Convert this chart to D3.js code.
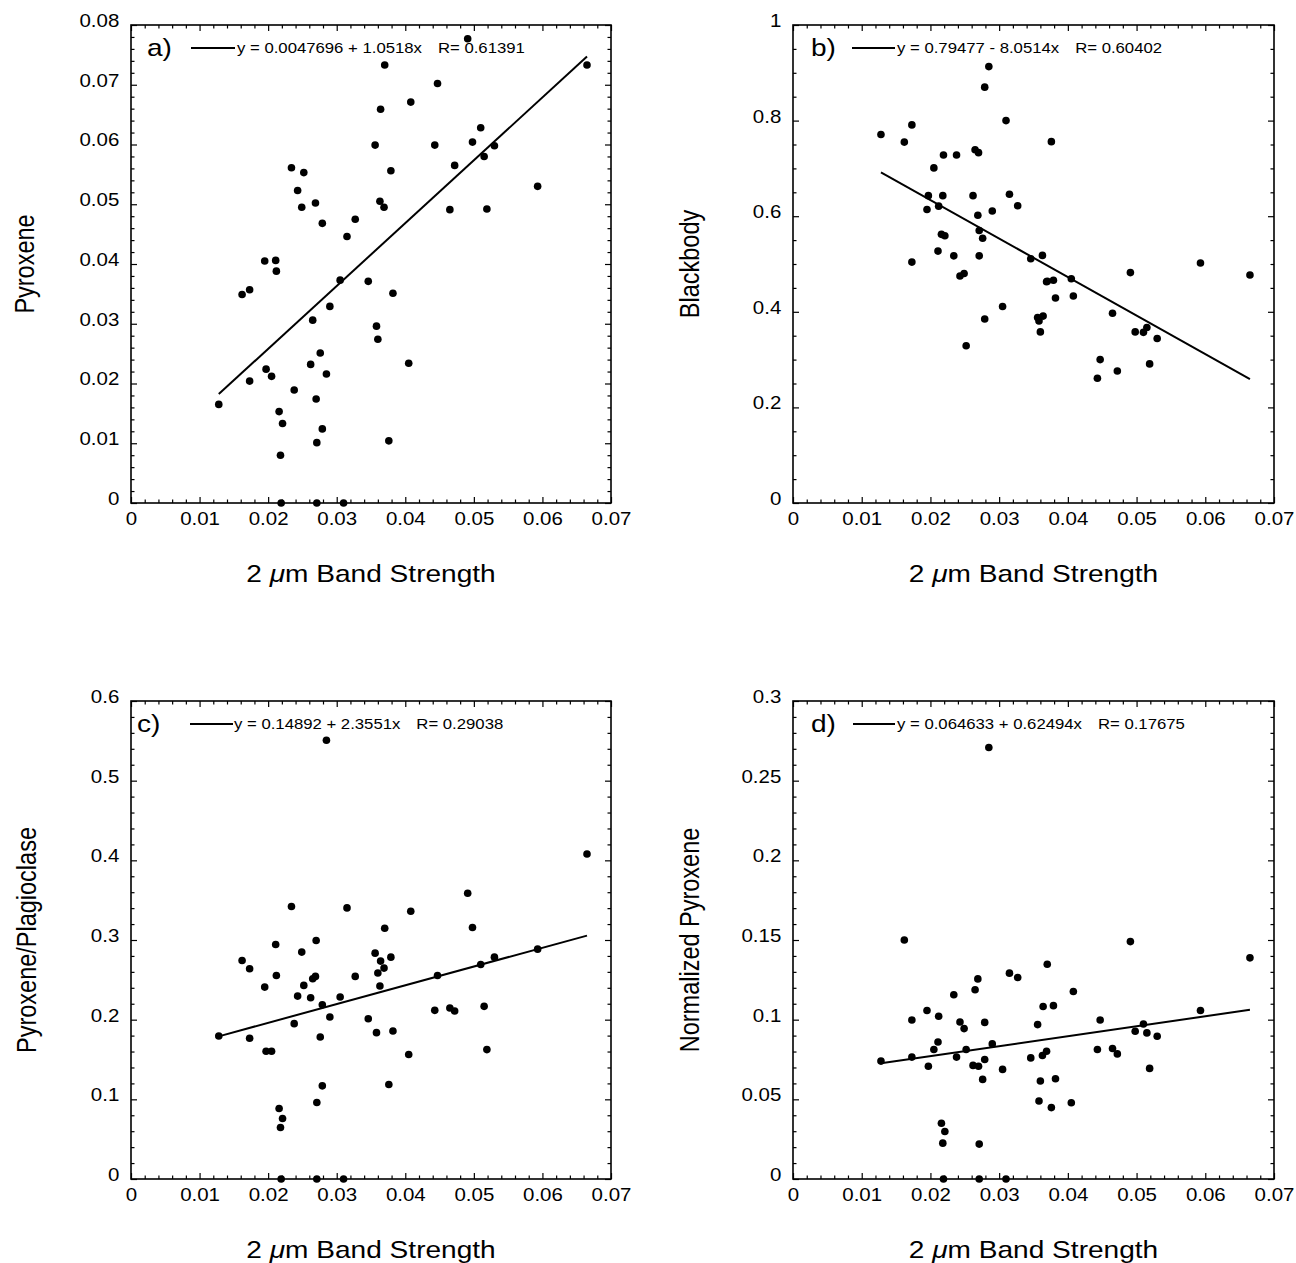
<!DOCTYPE html>
<html><head><meta charset="utf-8">
<script src="https://cdn.jsdelivr.net/npm/d3@7"></script>
<style>
body{margin:0;background:#fff}
svg text{font-family:"Liberation Sans",Arial,Helvetica,sans-serif;fill:#000}
</style></head><body>
<svg id="chart" width="1296" height="1263"></svg>
<script>
// ---- data ----
const bandStrength = [0.0128,0.0162,0.0173,0.0173,0.0195,0.0197,0.0205,0.0211,0.0212,0.0216,0.0218,0.0219,0.0221,0.0234,0.0238,0.0243,0.0249,0.0252,0.0262,0.0265,0.0269,0.0270,0.0271,0.0271,0.0276,0.0279,0.0279,0.0285,0.0290,0.0305,0.0310,0.0315,0.0327,0.0346,0.0356,0.0358,0.0360,0.0363,0.0364,0.0369,0.0370,0.0376,0.0379,0.0382,0.0405,0.0408,0.0443,0.0447,0.0465,0.0472,0.0491,0.0498,0.0510,0.0515,0.0519,0.0530,0.0593,0.0665];
const pyroxene = [0.0165,0.0349,0.0357,0.0204,0.0405,0.0224,0.0212,0.0406,0.0388,0.0153,0.0080,0,0.0133,0.0561,0.0189,0.0523,0.0495,0.0553,0.0232,0.0306,0.0502,0.0174,0.0101,0,0.0251,0.0124,0.0468,0.0216,0.0329,0.0373,0,0.0446,0.0475,0.0371,0.0599,0.0296,0.0274,0.0505,0.0659,0.0495,0.0733,0.0104,0.0556,0.0351,0.0234,0.0671,0.0599,0.0702,0.0491,0.0565,0.0777,0.0604,0.0628,0.0580,0.0492,0.0598,0.0530,0.0733];
const blackbody = [0.771,0.755,0.791,0.504,0.614,0.643,0.701,0.527,0.621,0.562,0.643,0.728,0.559,0.517,0.728,0.475,0.480,0.329,0.643,0.739,0.602,0.733,0.570,0.517,0.554,0.870,0.385,0.913,0.611,0.411,0.800,0.646,0.622,0.511,0.388,0.381,0.358,0.518,0.391,0.463,0.464,0.756,0.466,0.429,0.469,0.433,0.261,0.300,0.397,0.276,0.482,0.358,0.357,0.367,0.291,0.344,0.502,0.477];
const pyxPlag = [0.1795,0.2743,0.2639,0.1766,0.2409,0.1603,0.1603,0.2944,0.2555,0.0885,0.0647,0,0.0760,0.342,0.195,0.2296,0.2848,0.2430,0.2276,0.2514,0.2543,0.2994,0.096,0,0.1783,0.1169,0.2188,0.5507,0.2033,0.2284,0,0.3403,0.2543,0.2012,0.2835,0.1837,0.2585,0.2422,0.2735,0.2647,0.3148,0.1186,0.2785,0.1858,0.1562,0.3361,0.2117,0.2555,0.2146,0.2109,0.3587,0.3157,0.2693,0.2167,0.1624,0.2785,0.2885,0.4079];
const normPyx = [0.0740,0.150,0.0998,0.0765,0.1058,0.0708,0.0813,0.0860,0.1021,0.035,0.0225,0,0.0298,0.1156,0.0765,0.0985,0.0944,0.0813,0.0713,0.1188,0.1256,0.0708,0.0219,0,0.0625,0.075,0.0983,0.2708,0.0848,0.0688,0,0.1292,0.1265,0.076,0.0969,0.049,0.0615,0.0775,0.1083,0.0802,0.1348,0.0448,0.1088,0.0629,0.0479,0.1177,0.0813,0.0998,0.0819,0.0785,0.149,0.0927,0.0973,0.0917,0.0694,0.0896,0.1058,0.1388];

const fitIntercepts = [0.0047696, 0.79477, 0.14892, 0.064633];
const fitSlopes = [1.0518, -8.0514, 2.3551, 0.62494];
const equationLabels = ["y = 0.0047696 + 1.0518x", "y = 0.79477 - 8.0514x", "y = 0.14892 + 2.3551x", "y = 0.064633 + 0.62494x"];
const rLabels = ["R= 0.61391", "R= 0.60402", "R= 0.29038", "R= 0.17675"];
const panelLetters = ["a)", "b)", "c)", "d)"];
const yTitles = ["Pyroxene", "Blackbody", "Pyroxene/Plagioclase", "Normalized Pyroxene"];
const yMax = [0.08, 1, 0.6, 0.3];
const yMajorStep = [0.01, 0.2, 0.1, 0.05];
const yMinorStep = [0.002, 0.05, 0.02, 0.01];
const xMax = 0.07, xMajorStep = 0.01, xMinorStep = 0.002;
const xTitlePre = "2 ", xTitleMu = "\u03BC", xTitlePost = "m Band Strength";

// ---- layout ----
const SX = 1.17;          // horizontal stretch of the original typesetting
const layout = [
  {left:131, top:25,  width:480, height:478, letterX:16, lineX1:60, lineX2:104, textX:106, titleX:24},
  {left:793, top:25,  width:481, height:478, letterX:18, lineX1:59, lineX2:102, textX:104, titleX:689},
  {left:131, top:701, width:480, height:478, letterX:6,  lineX1:59, lineX2:102, textX:103, titleX:26},
  {left:793, top:701, width:481, height:478, letterX:18, lineX1:60, lineX2:102, textX:104, titleX:689}
];
const series = [pyroxene, blackbody, pyxPlag, normPyx];

const svg = d3.select("#chart");
const steps = (max, step) => d3.range(0, Math.round(max / step) + 1).map(k => +(k * step).toFixed(6));
const fmt = d => d === 0 ? "0" : String(+d.toFixed(4));

function styleAxis(sel, withText) {
  sel.select(".domain").remove();
  sel.selectAll(".tick line").attr("stroke", "#000").attr("stroke-width", 1.2);
  if (withText) sel.selectAll(".tick text").attr("font-size", 17.5).attr("font-family", '"Liberation Sans",Arial,sans-serif').attr("fill", "#000");
  sel.attr("font-family", null).attr("font-size", null);
}

series.forEach((ys, i) => {
  const L = layout[i];
  const g = svg.append("g").attr("transform", `translate(${L.left},${L.top})`);
  const x = d3.scaleLinear().domain([0, xMax]).range([0, L.width]);
  const y = d3.scaleLinear().domain([0, yMax[i]]).range([L.height, 0]);

  const xMajor = steps(xMax, xMajorStep);
  const xMinor = steps(xMax, xMinorStep).filter(v => !xMajor.some(m => Math.abs(m - v) < 1e-9));
  const yMajor = steps(yMax[i], yMajorStep[i]);
  const yMinor = steps(yMax[i], yMinorStep[i]).filter(v => !yMajor.some(m => Math.abs(m - v) < 1e-9));

  const MAJ = 6, MIN = 3.5;
  // bottom
  const gb = g.append("g").attr("transform", `translate(0,${L.height})`)
    .call(d3.axisBottom(x).tickValues(xMajor).tickSizeInner(-MAJ).tickSizeOuter(0).tickPadding(10).tickFormat(fmt));
  styleAxis(gb, true);
  gb.selectAll(".tick text").attr("transform", `scale(${SX},1)`);
  styleAxis(g.append("g").attr("transform", `translate(0,${L.height})`)
    .call(d3.axisBottom(x).tickValues(xMinor).tickSizeInner(-MIN).tickSizeOuter(0).tickFormat("")), false);
  // top
  styleAxis(g.append("g").call(d3.axisTop(x).tickValues(xMajor).tickSizeInner(-MAJ).tickSizeOuter(0).tickFormat("")), false);
  styleAxis(g.append("g").call(d3.axisTop(x).tickValues(xMinor).tickSizeInner(-MIN).tickSizeOuter(0).tickFormat("")), false);
  // left
  const gl = g.append("g").call(d3.axisLeft(y).tickValues(yMajor).tickSizeInner(-MAJ).tickSizeOuter(0).tickPadding(10).tickFormat(fmt));
  styleAxis(gl, true);
  gl.selectAll(".tick text").attr("transform", `scale(${SX},1)`).attr("dy", "0.08em");
  styleAxis(g.append("g").call(d3.axisLeft(y).tickValues(yMinor).tickSizeInner(-MIN).tickSizeOuter(0).tickFormat("")), false);
  // right
  styleAxis(g.append("g").attr("transform", `translate(${L.width},0)`)
    .call(d3.axisRight(y).tickValues(yMajor).tickSizeInner(-MAJ).tickSizeOuter(0).tickFormat("")), false);
  styleAxis(g.append("g").attr("transform", `translate(${L.width},0)`)
    .call(d3.axisRight(y).tickValues(yMinor).tickSizeInner(-MIN).tickSizeOuter(0).tickFormat("")), false);

  // frame
  g.append("rect").attr("x", 0).attr("y", 0).attr("width", L.width).attr("height", L.height)
    .attr("fill", "none").attr("stroke", "#000").attr("stroke-width", 1.6);

  // regression line over the data x-range
  const [x0, x1] = d3.extent(bandStrength);
  const fit = [x0, x1].map(v => [v, fitIntercepts[i] + fitSlopes[i] * v]);
  g.append("path").attr("d", d3.line().x(d => x(d[0])).y(d => y(d[1]))(fit))
    .attr("stroke", "#000").attr("stroke-width", 2).attr("fill", "none");

  // points
  g.selectAll("circle.pt").data(bandStrength.map((v, k) => [v, ys[k]])).join("circle")
    .attr("class", "pt").attr("cx", d => x(d[0])).attr("cy", d => y(d[1])).attr("r", 3.8).attr("fill", "#000");

  // panel letter + legend
  g.append("text").attr("transform", `translate(${L.letterX},31) scale(${SX},1)`)
    .attr("font-size", 24).text(panelLetters[i]);
  g.append("line").attr("x1", L.lineX1).attr("x2", L.lineX2).attr("y1", 23).attr("y2", 23)
    .attr("stroke", "#000").attr("stroke-width", 2);
  const eq = g.append("text").attr("transform", `translate(${L.textX},28) scale(${SX},1)`)
    .attr("font-size", 14.3).text(equationLabels[i]);
  const eqW = eq.node().getComputedTextLength() * SX;
  g.append("text").attr("transform", `translate(${L.textX + eqW + 16},28) scale(${SX},1)`)
    .attr("font-size", 14.3).text(rLabels[i]);

  // y title
  svg.append("text").attr("transform", `translate(${L.titleX},${L.top + L.height / 2}) rotate(-90) scale(1,${SX})`)
    .attr("text-anchor", "middle").attr("dy", "0.35em").attr("font-size", 23.5).text(yTitles[i]);

  // x title
  const xt = svg.append("text").attr("transform", `translate(${L.left + L.width / 2},${L.top + L.height + 79}) scale(${SX},1)`)
    .attr("text-anchor", "middle").attr("font-size", 24);
  xt.append("tspan").text(xTitlePre);
  xt.append("tspan").attr("font-style", "italic").text(xTitleMu);
  xt.append("tspan").text(xTitlePost);
});
</script>
</body></html>
